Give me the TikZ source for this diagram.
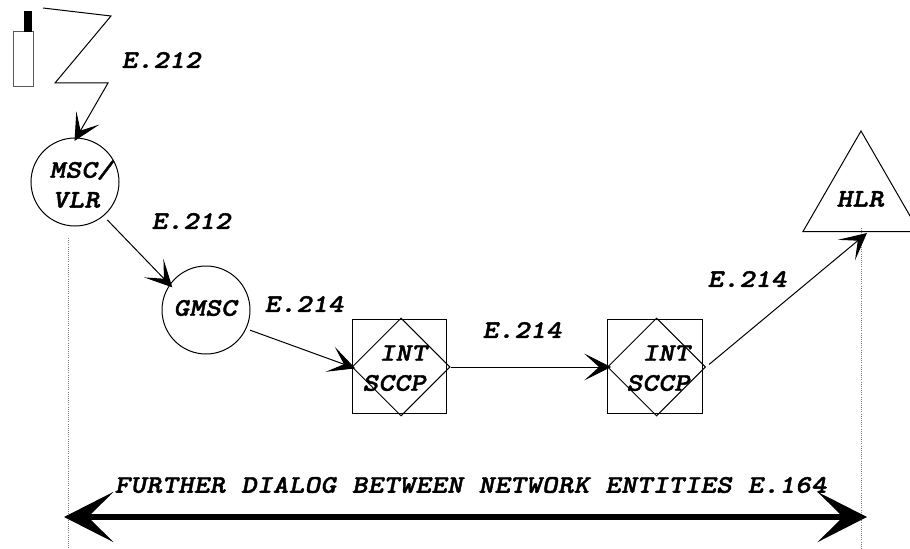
\documentclass[tikz,border=0pt]{standalone}
\usepackage{fontspec}
\newfontface\lblfont{lmmonolt10-boldoblique.otf}[FakeStretch=1.17,LetterSpace=1.2,FakeBold=1.6]
\usetikzlibrary{arrows.meta,shapes.geometric}

\tikzset{every picture/.style={line width=0.75pt}}
\tikzset{
  entity/.style={draw,circle,minimum size=66pt,inner sep=0pt},
  stpbox/.style={draw,minimum size=71pt,inner sep=0pt},
  stpdiamond/.style={draw,diamond,minimum size=73.5pt,inner sep=0pt},
  lbl/.style={anchor=west,inner sep=0pt,font=\fontsize{19}{21}\lblfont},
  lifeline/.style={draw=gray,densely dotted,line width=0.6pt},
  hop/.style={-{Stealth[length=20pt,width=20pt,inset=11pt]},shorten >=-3pt},
}

\begin{document}
\begin{tikzpicture}[x=0.75pt,y=0.75pt,yscale=-1,xscale=1]
\useasboundingbox (0,0) rectangle (910,549);

%Lifelines
\coordinate (lifeL top) at (68,238);
\coordinate (lifeL bot) at (68,549);
\coordinate (lifeR top) at (861,228);
\coordinate (lifeR bot) at (861,549);
\draw [lifeline] (lifeL top) -- (lifeL bot);
\draw [lifeline] (lifeR top) -- (lifeR bot);

%Shape: Handset
\draw (23.3,59.2) node [draw=black!65,minimum width=15pt,minimum height=41.25pt,inner sep=0pt] (handset) {};
\draw (28,21.5) node [fill=black,minimum width=6pt,minimum height=15.5pt,inner sep=0pt] (antenna) {};

%Shape: Circle
\draw (75,182) node [entity] (msc) {};
\draw (206,310) node [entity] (gmsc) {};

%Shape: Square and Diamond
\draw (399.5,366.5) node [stpbox] (box1) {};
\draw (401,367) node [stpdiamond] (int1) {};
\draw (655,366.5) node [stpbox] (box2) {};
\draw (656.5,367) node [stpdiamond] (int2) {};

%Shape: Triangle
\draw (861,198) node [draw,regular polygon,regular polygon sides=3,minimum size=100.5pt,inner sep=0pt] (hlr) {};

%Radio link
\coordinate (zig0) at (43,8);
\coordinate (zig1) at (111,16);
\coordinate (zig2) at (55,83);
\coordinate (zig3) at (108,83);
\draw [hop] (zig0) -- (zig1) -- (zig2) -- (zig3) -- (msc.88);

%Straight Lines
\coordinate (hlr in) at (867,233);
\draw [hop,shorten <=4pt] (msc.-50) -- (gmsc.145);
\draw [hop,shorten <=3pt] (gmsc.-25) -- (int1.west);
\draw [hop] (int1.east) -- (int2.west);
\draw [hop,shorten <=3pt,shorten >=0pt] (int2.east) -- (hlr in);

%Thick double arrow
\coordinate (dialog L) at (64,517);
\coordinate (dialog R) at (867,517);
\draw [line width=4.5pt,{Stealth[length=37pt,width=37.5pt,inset=19pt]}-{Stealth[length=37pt,width=37.5pt,inset=19pt]}] (dialog L) -- (dialog R);

% Text Node
\draw (121,60) node [lbl] (lbl radio) {E.212};
\draw (49,170) node [lbl] (lbl msc) {MSC/};
\draw (52,200) node [lbl] (lbl vlr) {VLR};
\draw (151,221) node [lbl] (lbl gmsc in) {E.212};
\draw (173,308) node [lbl] (lbl gmsc) {GMSC};
\draw (264,304) node [lbl] (lbl int1 in) {E.214};
\draw (379,353) node [lbl] (lbl int a) {INT};
\draw (362,383) node [lbl] (lbl sccp a) {SCCP};
\draw (482,330) node [lbl] (lbl int2 in) {E.214};
\draw (642,353) node [lbl] (lbl int b) {INT};
\draw (626,383) node [lbl] (lbl sccp b) {SCCP};
\draw (707,279) node [lbl] (lbl hlr in) {E.214};
\draw (836,199) node [lbl] (lbl hlr) {HLR};
\draw (114,485) node [lbl] (lbl dialog) {FURTHER DIALOG BETWEEN NETWORK ENTITIES E.164};

\end{tikzpicture}
\end{document}
